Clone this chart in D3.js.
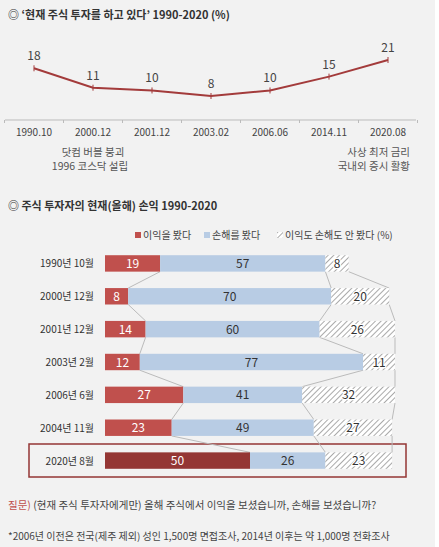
<!DOCTYPE html><html><head><meta charset="utf-8"><script src="https://cdn.jsdelivr.net/npm/d3@7"></script>
<style>body{margin:0;background:#fff}text{font-family:"Noto Sans CJK KR","Noto Sans",sans-serif}</style></head><body>
<svg id="c" width="439" height="547"></svg>
<script>
const lineDates=["1990.10","2000.12","2001.12","2003.02","2006.06","2014.11","2020.08"];
const lineValues=[18,11,10,8,10,15,21];
const barCats=["1990년 10월","2000년 12월","2001년 12월","2003년 2월","2006년 6월","2004년 11월","2020년 8월"];
const gain=[19,8,14,12,27,23,50];
const loss=[57,70,60,77,41,49,26];
const none=[8,20,26,11,32,27,23];
const svg=d3.select("#c");
svg.append("rect").attr("width",435).attr("height",547).attr("fill","#f2f2f2");
const defs=svg.append("defs");
const p=defs.append("pattern").attr("id","h").attr("width",4).attr("height",4).attr("patternUnits","userSpaceOnUse").attr("patternTransform","rotate(45)");
p.append("rect").attr("width",4).attr("height",4).attr("fill","#fff");
p.append("line").attr("x1",0).attr("y1",0).attr("x2",0).attr("y2",4).attr("stroke","#555").attr("stroke-width",1);
svg.append("text").attr("x",8).attr("y",19).attr("font-size",11).attr("font-weight","bold").attr("fill","#333").text("◎  ‘현재 주식 투자를 하고 있다’ 1990-2020 (%)");
svg.append("text").attr("x",8).attr("y",210).attr("font-size",11).attr("font-weight","bold").attr("fill","#333").text("◎  주식 투자자의 현재(올해) 손익 1990-2020");
const x=d3.scalePoint().domain(lineDates).range([34,388]);
const y=d3.scaleLinear().domain([8,21]).range([96,60]);
const ax=svg.append("g").attr("transform","translate(0,120)");
ax.append("line").attr("x1",5).attr("x2",416).attr("stroke","#bbb");
const step=x.step();
d3.range(lineDates.length+1).forEach(i=>ax.append("line").attr("x1",34-step/2+i*step).attr("x2",34-step/2+i*step).attr("y1",0).attr("y2",3).attr("stroke","#bbb"));
lineDates.forEach(d=>ax.append("text").attr("x",x(d)).attr("y",16).attr("text-anchor","middle").attr("font-size",10).attr("fill","#444").text(d));
svg.append("path").datum(lineValues).attr("d",d3.line().x((d,i)=>x(lineDates[i])).y(d=>y(d))).attr("fill","none").attr("stroke","#a33b3b").attr("stroke-width",2);
lineValues.forEach((v,i)=>{
 svg.append("line").attr("x1",x(lineDates[i])).attr("x2",x(lineDates[i])).attr("y1",y(v)-3).attr("y2",y(v)+3).attr("stroke","#a33b3b");
 svg.append("text").attr("x",x(lineDates[i])).attr("y",y(v)-8).attr("text-anchor","middle").attr("font-size",12).attr("fill","#444").text(v);
});
const ann=[[x("2000.12"),156,"닷컴 버블 붕괴","middle"],[x("2000.12")-3,170,"1996 코스닥 설립","middle"],[x("2020.08")+22,156,"사상 최저 금리","end"],[x("2020.08")+22,170,"국내외 증시 활황","end"]];
ann.forEach(a=>svg.append("text").attr("x",a[0]).attr("y",a[1]).attr("text-anchor",a[3]).attr("font-size",10.5).attr("fill","#555").text(a[2]));
const lg=[["#c0504d",null,"이익을 봤다",135],["#b8cce4",null,"손해를 봤다",204],[null,"url(#h)","이익도 손해도 안 봤다 (%)",277]];
lg.forEach(l=>{svg.append("rect").attr("x",l[3]).attr("y",232).attr("width",6).attr("height",6).attr("fill",l[0]||l[1]);
 svg.append("text").attr("x",l[3]+8).attr("y",239).attr("font-size",10).attr("fill","#444").text(l[2]);});
const bx=d3.scaleLinear().domain([0,100]).range([105,395]);
const by=d3.scaleBand().domain(barCats).range([247,477]).paddingInner(0.5).paddingOuter(0.25);
const bh=by.bandwidth();
svg.append("rect").attr("x",29).attr("y",444).attr("width",377).attr("height",33).attr("fill","none").attr("stroke","#943634").attr("stroke-width",1.5);
const cum=[gain, gain.map((g,i)=>g+loss[i]), gain.map((g,i)=>g+loss[i]+none[i])];
cum.forEach(arr=>{for(let i=0;i<arr.length-1;i++){svg.append("line").attr("x1",bx(arr[i])).attr("y1",by(barCats[i])+bh).attr("x2",bx(arr[i+1])).attr("y2",by(barCats[i+1])).attr("stroke","#bbb")}});
barCats.forEach((c,i)=>{
 const yy=by(c);
 svg.append("text").attr("x",94).attr("y",yy+bh/2+4).attr("text-anchor","end").attr("font-size",10).attr("fill","#333").text(c);
 const segs=[[0,gain[i],i==6?"#943634":"#c0504d","#fff"],[gain[i],cum[1][i],"#b8cce4","#333"],[cum[1][i],cum[2][i],"url(#h)","#333"]];
 segs.forEach(s=>{svg.append("rect").attr("x",bx(s[0])).attr("y",yy).attr("width",bx(s[1])-bx(s[0])).attr("height",bh).attr("fill",s[2]);
  svg.append("text").attr("x",(bx(s[0])+bx(s[1]))/2).attr("y",yy+bh/2+4.5).attr("text-anchor","middle").attr("font-size",12).attr("fill",s[3]).attr("stroke",s[2]==="url(#h)"?"#fff":"none").attr("stroke-width",2.5).attr("paint-order","stroke").text(s[1]-s[0]);});
});
const q=svg.append("text").attr("x",8).attr("y",509).attr("font-size",10.5).attr("fill","#444");
q.append("tspan").attr("fill","#c0504d").text("질문) ");q.append("tspan").text("(현재 주식 투자자에게만) 올해 주식에서 이익을 보셨습니까, 손해를 보셨습니까?");
svg.append("text").attr("x",8).attr("y",540).attr("font-size",10).attr("fill","#444").text("*2006년 이전은 전국(제주 제외) 성인 1,500명 면접조사, 2014년 이후는 약 1,000명 전화조사");
</script></body></html>
